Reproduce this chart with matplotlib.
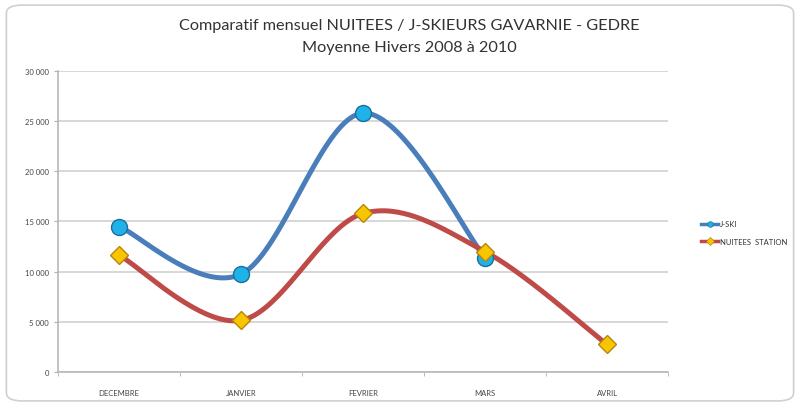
import numpy as np
import matplotlib.pyplot as plt
from matplotlib.patches import FancyBboxPatch
from matplotlib.ticker import FuncFormatter

mois = ['DECEMBRE', 'JANVIER', 'FEVRIER', 'MARS', 'AVRIL']
jski = [14500, 9750, 25800, 11400]
nuitees = [11650, 5150, 15800, 12000, 2750]


def smooth(y, n=40):
    # courbe lissée façon Excel (bezier catmull-rom)
    x = np.arange(len(y), dtype=float)
    p = np.column_stack([x, np.array(y, dtype=float)])
    xs, ys = [], []
    for i in range(len(p) - 1):
        p0 = p[i - 1] if i > 0 else p[i]
        p3 = p[i + 2] if i + 2 < len(p) else p[i + 1]
        c1 = p[i] + (p[i + 1] - p0) / 6
        c2 = p[i + 1] - (p3 - p[i]) / 6
        t = np.linspace(0, 1, n)[:, None]
        b = ((1 - t) ** 3) * p[i] + 3 * ((1 - t) ** 2) * t * c1 + 3 * (1 - t) * t ** 2 * c2 + t ** 3 * p[i + 1]
        xs.extend(b[:, 0])
        ys.extend(b[:, 1])
    return np.array(xs), np.array(ys)


plt.rcParams['font.family'] = ['Lato', 'DejaVu Sans']

fig = plt.figure(figsize=(8, 4.06), dpi=100)
fig.patches.append(FancyBboxPatch((0.008, 0.01), 0.984, 0.975, boxstyle='round,pad=0,rounding_size=0.02',
                                  transform=fig.transFigure, fc='white', ec='#d0d0d0', lw=1.2, zorder=-1))

ax = fig.add_axes([0.0725, 0.0813, 0.7625, 0.7414])

bleu = '#4a7ebb'
rouge = '#be4b48'

sx, sy = smooth(jski)
ax.plot(sx, sy, color=bleu, lw=3.6, solid_capstyle='round', zorder=3)
ax.plot(range(len(jski)), jski, ls='none', marker='o', ms=11.5, mfc='#1fb2e8', mec='#1a6f9a', mew=1, zorder=5)

sx, sy = smooth(nuitees)
ax.plot(sx, sy, color=rouge, lw=3.6, solid_capstyle='round', zorder=3)
ax.plot(range(len(nuitees)), nuitees, ls='none', marker='D', ms=9.5, mfc='#f7c600', mec='#b8860b', mew=1, zorder=5)

ax.set_xlim(-0.5, 4.5)
ax.set_ylim(0, 30000)
ax.set_yticks(range(0, 30001, 5000))
ax.yaxis.set_major_formatter(FuncFormatter(lambda v, p: '{:,}'.format(int(v)).replace(',', ' ')))
ax.set_xticks(range(len(mois)))
ax.set_xticklabels(mois)
ax.set_xticks(np.arange(-0.5, 5, 1), minor=True)
ax.tick_params(axis='x', which='major', length=0, pad=12, labelsize=5.5, labelcolor='#444444')
ax.tick_params(axis='x', which='minor', length=3, color='#b0b0b0')
ax.tick_params(axis='y', length=3, color='#b0b0b0', labelsize=5.5, labelcolor='#444444')

ax.grid(axis='y', color='#d4d4d4', lw=1.3)
ax.set_axisbelow(True)
for s in ['top', 'right']:
    ax.spines[s].set_visible(False)
for s in ['left', 'bottom']:
    ax.spines[s].set_color('#b8b8b8')
    ax.spines[s].set_linewidth(1.2)

fig.text(0.512, 0.935, 'Comparatif mensuel NUITEES / J-SKIEURS GAVARNIE - GEDRE', ha='center', va='center',
         fontsize=11.7, color='#333333')
fig.text(0.512, 0.882, 'Moyenne Hivers 2008 à 2010', ha='center', va='center', fontsize=11.7, color='#333333')

# légende
lx0, lx1 = 0.876, 0.898
for yy, col, mk, fc, ec, lab in [(0.447, bleu, 'o', '#1fb2e8', '#1a6f9a', 'J-SKI'),
                                 (0.403, rouge, 'D', '#f7c600', '#b8860b', 'NUITEES  STATION')]:
    fig.lines.append(plt.Line2D([lx0, lx1], [yy, yy], color=col, lw=2.5, transform=fig.transFigure))
    fig.lines.append(plt.Line2D([(lx0 + lx1) / 2], [yy], marker=mk, ms=4, mfc=fc, mec=ec, mew=0.5,
                                transform=fig.transFigure))
    fig.text(lx1 + 0.002, yy, lab, fontsize=5.5, va='center', color='#333333')

fig.savefig('out.png', dpi=100)
